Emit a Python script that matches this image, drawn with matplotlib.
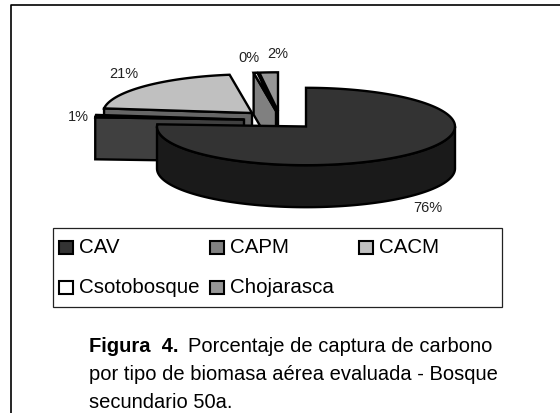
import numpy as np
import matplotlib
matplotlib.use('Agg')
import matplotlib.pyplot as plt
from matplotlib.patches import Polygon, Rectangle

plt.rcParams['font.family'] = ['Liberation Sans', 'DejaVu Sans']

# Values
categories = ['CAV', 'CAPM', 'CACM', 'Csotobosque', 'Chojarasca']
values = [75.9, 1.0, 20.7, 0.4, 2.0]
top_colors = ['#333333', '#808080', '#c0c0c0', '#ffffff', '#969696']
side_colors = ['#1a1a1a', '#404040', '#666666', '#808080', '#4b4b4b']

# Pie geometry in pixels
rx, ry, depth = 149, 38.7, 42
centers = [(306, 127.5), (244, 120.5), (252, 114), (276, 112), (278, 112)]
label_pos = [(428, 208), (78, 117), (124, 74), (249, 58), (278, 54)]
legend_pos = [(59, 248), (210, 248), (359, 248), (59, 288), (210, 288)]

fig = plt.figure(figsize=(5.6, 4.14), dpi=100)
ax = fig.add_axes([0, 0, 1, 1])
ax.set_xlim(0, 560)
ax.set_ylim(414, 0)
ax.axis('off')

lw = 1.7


def point(c, theta):
    t = np.radians(theta)
    return np.array([c[0] + rx * np.sin(t), c[1] - ry * np.cos(t)])


def extrude(p, q, color, z):
    quad = [p, q, q + [0, depth], p + [0, depth]]
    ax.add_patch(Polygon(quad, fc=color, ec='black', lw=lw, zorder=z))


edges = np.cumsum([0] + values) * 3.6

# back to front, the big slice goes last
for i in [4, 3, 2, 1, 0]:
    c = np.array(centers[i], dtype=float)
    a, b = edges[i], edges[i + 1]
    z = 10 - i
    # flat cut face
    if a > 180:
        extrude(c, point(c, a), side_colors[i], z)
    # rim, only the part that faces the viewer
    lo, hi = max(a, 90), min(b, 270)
    if hi > lo:
        arc = np.array([point(c, t) for t in np.linspace(lo, hi, 120)])
        rim = np.vstack([arc, arc[::-1] + [0, depth]])
        ax.add_patch(Polygon(rim, fc=side_colors[i], ec='black', lw=lw, zorder=z))
    arc = np.array([point(c, t) for t in np.linspace(a, b, 200)])
    ax.add_patch(Polygon(np.vstack([c, arc]), fc=top_colors[i], ec='black', lw=lw, zorder=z))

for v, (x, y) in zip(values, label_pos):
    ax.text(x, y, '%.0f%%' % v, fontsize=10.5, ha='center', va='center', color='#222222', zorder=20)

# outer frame, open on the right
ax.plot([10.5, 10.5, 560], [414, 6, 6], color='black', lw=1.2, zorder=1)

# legend box
ax.add_patch(Rectangle((52.5, 229), 449.5, 79, fc='white', ec='#222222', lw=0.9, zorder=20))
for name, col, (x, y) in zip(categories, top_colors, legend_pos):
    ax.add_patch(Rectangle((x, y - 6.5), 13.5, 13.5, fc=col, ec='black', lw=1.5, zorder=21))
    ax.text(x + 20, y, name, fontsize=14.8, ha='left', va='center', color='black', zorder=21)

# caption
cap_x = 89
ax.text(cap_x, 347, 'Figura  4.', fontsize=14.5, fontweight='bold', ha='left', va='center')
ax.text(cap_x + 99, 347, 'Porcentaje de captura de carbono', fontsize=14.5, ha='left', va='center')
ax.text(cap_x, 375, 'por tipo de biomasa aérea evaluada - Bosque', fontsize=14.5, ha='left', va='center')
ax.text(cap_x, 403, 'secundario 50a.', fontsize=14.5, ha='left', va='center')

fig.savefig('out.png', dpi=100)
